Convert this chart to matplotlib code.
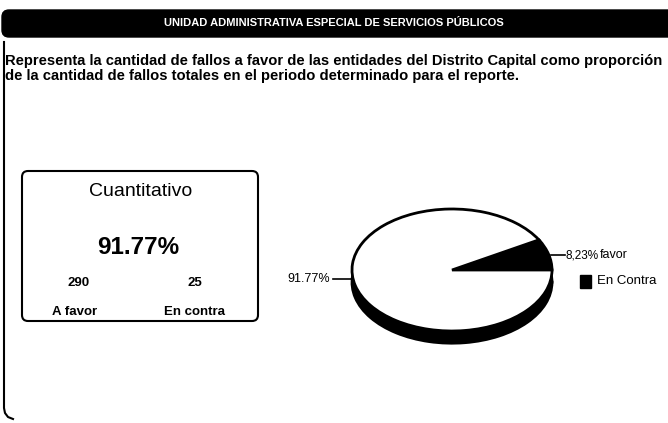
import matplotlib
matplotlib.use("Agg")
import matplotlib.pyplot as plt
from matplotlib.patches import FancyBboxPatch, Rectangle

# data
titulo = "UNIDAD ADMINISTRATIVA ESPECIAL DE SERVICIOS PÚBLICOS"
descripcion = ["Representa la cantidad de fallos a favor de las entidades del Distrito Capital como proporción",
               "de la cantidad de fallos totales en el periodo determinado para el reporte."]
categorias = ["A favor", "En contra"]
conteos = [290, 25]
porcentajes = [91.77, 8.23]

FONT = ["Liberation Sans", "DejaVu Sans"]

fig = plt.figure(figsize=(6.68, 4.23), dpi=100)

# page layer in pixel coords
bg = fig.add_axes([0, 0, 1, 1])
bg.set_xlim(0, 668)
bg.set_ylim(423, 0)
bg.axis("off")

# header bar
bg.add_patch(FancyBboxPatch((2, 10), 680, 27, boxstyle="round,pad=0,rounding_size=7",
                            fc="black", ec="black"))
bg.text(334, 23.5, titulo, color="white", fontsize=8, fontweight="bold",
        family=FONT, ha="center", va="center")

# left border with rounded bottom corner
bg.plot([4, 4, 5, 8, 13], [42, 408, 413, 417, 419], color="black", lw=1.5)

for i, linea in enumerate(descripcion):
    bg.text(5, 61 + i * 15, linea, fontsize=10.6, fontweight="bold", family=FONT,
            ha="left", va="center")

# quantitative box
bg.add_patch(FancyBboxPatch((22, 171), 236, 150, boxstyle="round,pad=0,rounding_size=6",
                            fc="white", ec="black", lw=1.5))
bg.text(141, 191, "Cuantitativo", fontsize=14, family=FONT, ha="center", va="center")
bg.text(138, 247, f"{porcentajes[0]:.2f}%", fontsize=17.5, fontweight="bold",
        family=FONT, ha="center", va="center")
bg.text(79, 283, str(conteos[0]), fontsize=9.5, fontweight="bold", family=FONT,
        ha="center", va="center")
bg.text(195, 283, str(conteos[1]), fontsize=9.5, fontweight="bold", family=FONT,
        ha="center", va="center")
bg.text(75, 312, categorias[0], fontsize=9.5, fontweight="bold", family=FONT,
        ha="center", va="center")
bg.text(194, 312, categorias[1], fontsize=9.5, fontweight="bold", family=FONT,
        ha="center", va="center")

# pseudo 3D pie: px per unit x=100, y=61, center (452, 270)
cx, cy, sx, sy = 452, 270, 100, 61
xl, yl = (-1.2, 1.2), (-1.5, 1.2)
left = (cx + xl[0] * sx) / 668
bottom = (423 - (cy - yl[0] * sy)) / 423
ax = fig.add_axes([left, bottom, (xl[1] - xl[0]) * sx / 668, (yl[1] - yl[0]) * sy / 423])
depth = 0.2
ax.pie(porcentajes, colors=["black", "black"], startangle=0, counterclock=False,
       center=(0, -depth), wedgeprops=dict(ec="black", lw=2))
ax.add_patch(Rectangle((-1, -depth), 2, depth, fc="black", ec="none"))
ax.pie(porcentajes[::-1], colors=["black", "white"], startangle=0,
       wedgeprops=dict(ec="black", lw=2))
ax.set_aspect("auto")
ax.set_xlim(*xl)
ax.set_ylim(*yl)
ax.axis("off")

# labels and legend
bg.plot([333, 352], [279, 279], color="black", lw=1.2)
bg.text(330, 279, f"{porcentajes[0]:.2f}%", fontsize=9, family=FONT,
        ha="right", va="center")
bg.plot([551, 565], [255, 255], color="black", lw=1.2)
bg.text(566, 255, f"{porcentajes[1]:.2f}%".replace(".", ","), fontsize=8.5,
        family=FONT, ha="left", va="center")
bg.text(600, 255, "favor", fontsize=9, family=FONT, ha="left", va="center")
bg.add_patch(Rectangle((580, 275), 11, 13, fc="black", ec="black"))
bg.text(597, 281, "En Contra", fontsize=9.5, family=FONT, ha="left", va="center")

fig.savefig("out.png", dpi=100)
